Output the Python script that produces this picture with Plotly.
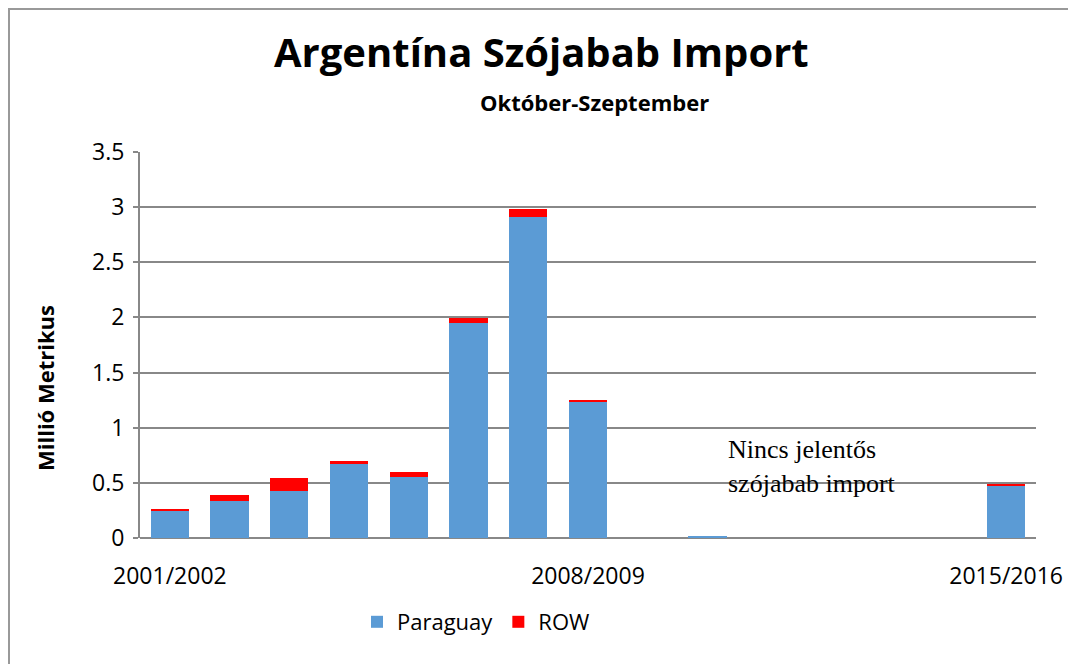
import plotly.graph_objects as go

categories = ["2001/2002", "2002/2003", "2003/2004", "2004/2005", "2005/2006",
              "2006/2007", "2007/2008", "2008/2009", "2009/2010", "2010/2011",
              "2011/2012", "2012/2013", "2013/2014", "2014/2015", "2015/2016"]
paraguay = [0.25, 0.34, 0.43, 0.68, 0.55, 1.95, 2.91, 1.235, 0, 0.015, 0, 0, 0, 0, 0.475]
row = [0.012, 0.05, 0.11, 0.018, 0.045, 0.045, 0.07, 0.01, 0, 0, 0, 0, 0, 0, 0.01]
tick_labels = ["2001/2002", "2008/2009", "2015/2016"]
y_ticks = [0, 0.5, 1, 1.5, 2, 2.5, 3, 3.5]

BLUE = "#5B9BD5"
RED = "#FF0000"
GRID = "#888888"
FONT = "Open Sans"

# page is rendered with an 8px body offset; plot area target: x 140..1036, y 152..538
OFF = 8
L, T, PW, PH = 140 - OFF, 152 - OFF, 896, 386


def px(x):
    return (x - OFF - L) / PW


def py(y):
    return (T + PH - (y - OFF)) / PH


fig = go.Figure()
fig.add_trace(go.Bar(x=categories, y=paraguay, name="Paraguay", marker=dict(color=BLUE, line=dict(width=0))))
fig.add_trace(go.Bar(x=categories, y=row, name="ROW", marker=dict(color=RED, line=dict(width=0))))

fig.update_layout(
    width=1076, height=664,
    barmode="stack", bargap=0.36,
    paper_bgcolor="white", plot_bgcolor="white",
    margin=dict(l=L, r=1076 - L - PW, t=T, b=664 - T - PH),
    font=dict(family=FONT, color="black"),
    legend=dict(orientation="h", x=px(476), xanchor="center", y=py(622), yanchor="middle",
                font=dict(size=22), itemsizing="constant", traceorder="normal"),
    showlegend=True,
)
fig.add_annotation(text="<b>Argentína Szójabab Import</b>", xref="paper", yref="paper",
                   x=px(541), y=py(52), showarrow=False,
                   font=dict(size=40, family=FONT), xanchor="center", yanchor="middle")
fig.update_xaxes(
    type="category", tickmode="array", tickvals=tick_labels, ticktext=tick_labels,
    tickfont=dict(size=23), showgrid=False, showline=False, ticks="", ticklabelstandoff=22,
    zeroline=False,
)
fig.update_yaxes(
    range=[0, 3.5], tickvals=y_ticks, ticktext=["0", "0.5", "1", "1.5", "2", "2.5", "3", "3.5"],
    tickfont=dict(size=23), showgrid=True, gridcolor=GRID, gridwidth=2,
    showline=True, linecolor=GRID, linewidth=2, ticks="outside", ticklen=5, tickcolor=GRID, tickwidth=2,
    zeroline=True, zerolinecolor=GRID, zerolinewidth=2, ticklabelstandoff=4,
)
fig.add_annotation(text="<b>Millió Metrikus</b>", xref="paper", yref="paper",
                   x=px(45), y=py(388), showarrow=False, textangle=-90,
                   font=dict(size=22, family=FONT), xanchor="center", yanchor="middle")
fig.add_annotation(text="<b>Október-Szeptember</b>", xref="paper", yref="paper",
                   x=px(594), y=py(102), showarrow=False,
                   font=dict(size=22, family=FONT), xanchor="center", yanchor="middle")
fig.add_annotation(text="Nincs jelentős<br>szójabab import", xref="paper", yref="paper",
                   x=px(812), y=py(466), showarrow=False,
                   font=dict(size=26, family="Liberation Serif"), xanchor="center", yanchor="middle",
                   align="left")
# outer chart border (left and top)
fig.add_shape(type="line", xref="paper", yref="paper", x0=px(8), x1=px(1090),
              y0=py(9), y1=py(9), line=dict(color="#999999", width=2))
fig.add_shape(type="line", xref="paper", yref="paper", x0=px(9), x1=px(9),
              y0=py(9), y1=py(680), line=dict(color="#999999", width=2))

fig.write_html("out.html")
